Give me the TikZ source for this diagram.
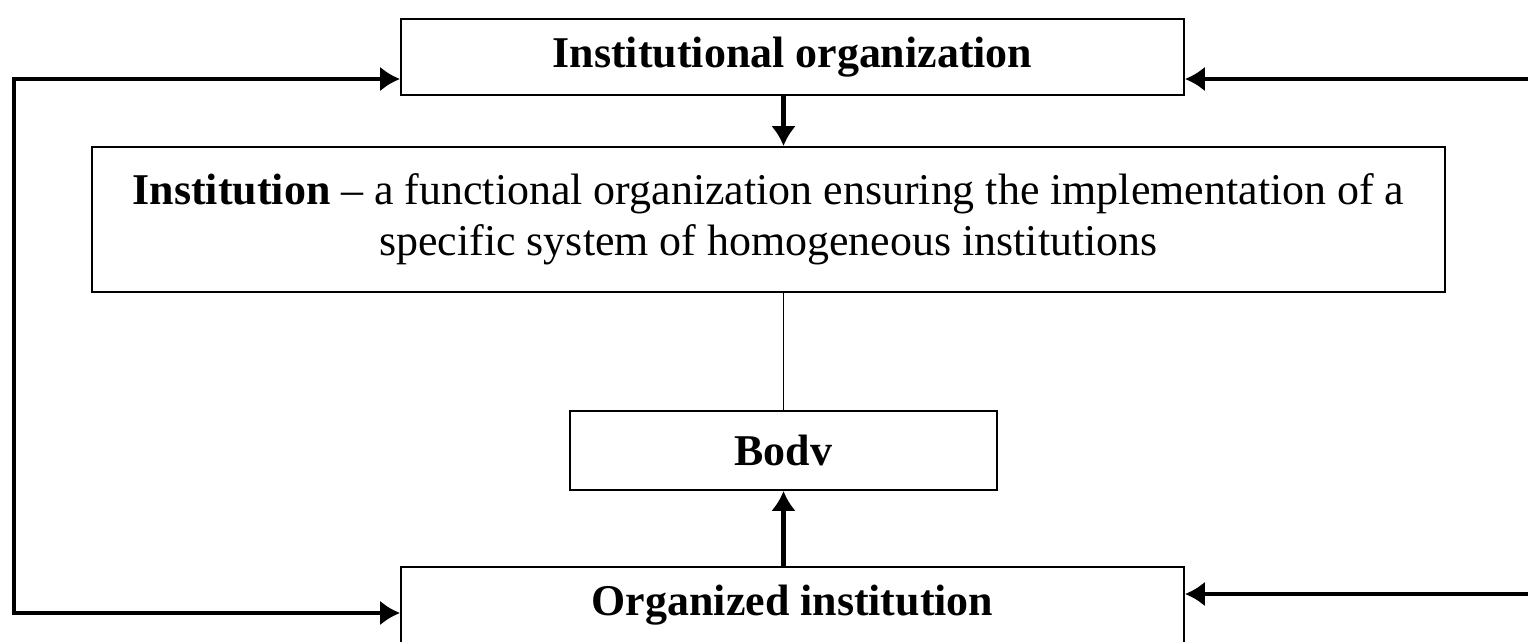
\documentclass[tikz,border=0pt]{standalone}
\usepackage{fontspec}
\setmainfont{Liberation Serif}
\usetikzlibrary{arrows.meta}
\begin{document}
\begin{tikzpicture}[x=0.02cm,y=-0.02cm,
    box/.style={draw,line width=1.1pt,inner sep=0pt,font=\fontsize{25}{29}\selectfont},
    link/.style={line width=2.8pt,-{Latex[length=0.4cm,width=0.5cm]}}]
    \useasboundingbox (0,0) rectangle (1528,643);
    \clip (0,0) rectangle (1528,641.5);
    \node[box,minimum width=15.66cm,minimum height=1.52cm] (top) at (792.5,57) {\textbf{Institutional organization}};
    \node[box,minimum width=27.06cm,minimum height=2.9cm,align=center] (inst) at (768.5,219.5)
        {\textbf{Institution} -- a functional organization ensuring the implementation of a\\specific system of homogeneous institutions};
    \node[box,minimum width=8.54cm,minimum height=1.58cm] (body) at (783.5,450.5) {\textbf{Bodv}};
    \node[box,minimum width=15.66cm,minimum height=1.52cm] (bottom) at (792.5,605) {\textbf{Organized institution}};
    % links
    \coordinate (lt) at (14,79);
    \coordinate (lb) at (14,613);
    \coordinate (rt) at (1528,79);
    \coordinate (rb) at (1528,594);
    \draw [link] (top.south -| body.north) -- (inst.north -| body.north);
    \draw [line width=1.1pt] (inst.south -| body.north) -- (body.north);
    \draw [link] (bottom.north -| body.south) -- (body.south);
    \draw [link,{Latex[length=0.4cm,width=0.5cm]}-{Latex[length=0.4cm,width=0.5cm]}] (top.west |- lt) -- (lt) -- (lb) -- (bottom.west |- lb);
    \draw [link] (rt) -- (top.east |- rt);
    \draw [link] (rb) -- (bottom.east |- rb);
\end{tikzpicture}
\end{document}
